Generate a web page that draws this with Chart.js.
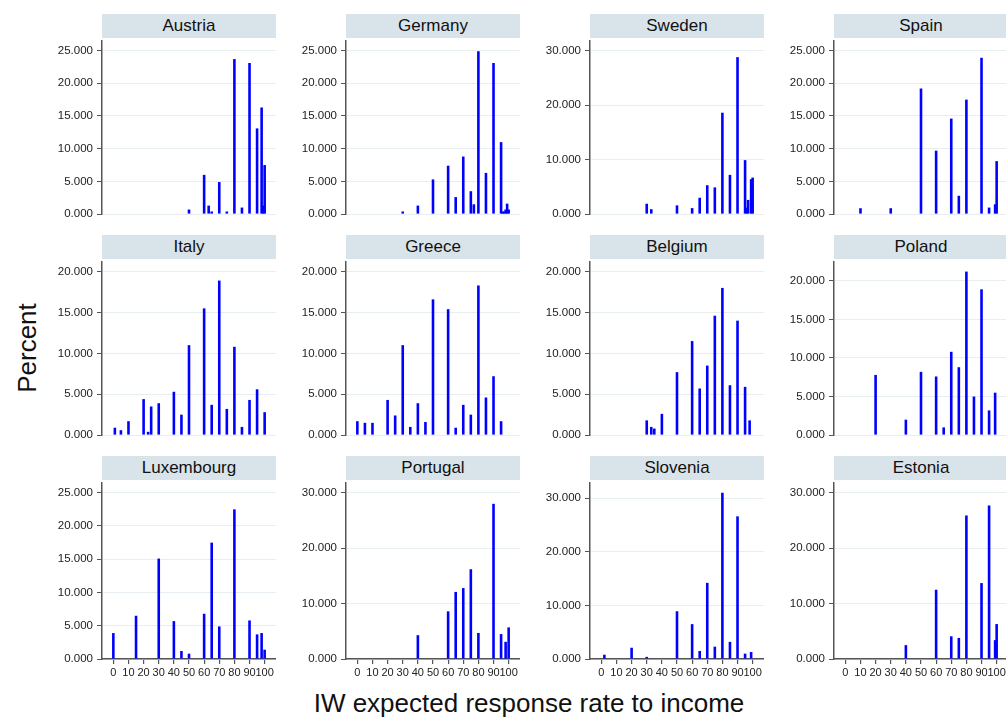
<!DOCTYPE html>
<html>
<head>
<meta charset="utf-8">
<script src="https://cdn.jsdelivr.net/npm/chart.js@4/dist/chart.umd.min.js"></script>
<style>
  html, body { margin: 0; padding: 0; background: #ffffff; }
  body { position: relative; width: 1006px; height: 717px; overflow: hidden;
         font-family: "Liberation Sans", Arial, Helvetica, sans-serif; }
  .strip { position: absolute; height: 24px; background: #d9e4ea; color: #111;
           font-size: 17px; line-height: 18px; text-align: center; white-space: nowrap; }
  canvas { position: absolute; }
  .ytitle { position: absolute; left: 27px; top: 348px; font-size: 26px; line-height: 26px;
            color: #111; transform: translate(-50%, -50%) rotate(-90deg); white-space: nowrap; }
  .xtitle { position: absolute; left: 529px; top: 703px; font-size: 26px; line-height: 26px;
            color: #111; transform: translate(-50%, -50%); white-space: nowrap; }
</style>
</head>
<body>
<div class="ytitle">Percent</div>
<div class="xtitle">IW expected response rate to income</div>
<script>
// Panels, in reading order (4 per row)
const countries = ['Austria', 'Germany', 'Sweden', 'Spain',
                   'Italy', 'Greece', 'Belgium', 'Poland',
                   'Luxembourg', 'Portugal', 'Slovenia', 'Estonia'];

// x-axis tick labels (shown on the bottom row only)
const xTicks = [0, 10, 20, 30, 40, 50, 60, 70, 80, 90, 100];

// y-axis tick labels per panel: top label and spacing
const yTickMax  = [25, 25, 30, 25, 20, 20, 20, 20, 25, 30, 30, 30];
const yTickStep = [ 5,  5, 10,  5,  5,  5,  5,  5,  5, 10, 10, 10];

// expected response rate (x) and percent of respondents (y) per country
const austriaRate = [50, 60, 63, 65, 70, 75, 80, 85, 90, 95, 98, 99, 100];
const austriaPct  = [0.7, 6.0, 1.3, 0.4, 4.9, 0.4, 23.7, 1.0, 23.1, 13.1, 16.3, 1.3, 7.5];

const germanyRate = [30, 40, 50, 60, 65, 70, 75, 77, 80, 85, 90, 95, 96, 97, 98, 99, 100];
const germanyPct  = [0.4, 1.3, 5.3, 7.4, 2.6, 8.8, 3.5, 1.5, 24.9, 6.3, 23.1, 11.0, 0.4, 0.4, 0.7, 1.6, 0.7];

const swedenRate = [30, 33, 50, 60, 65, 70, 75, 80, 85, 90, 95, 96, 97, 99, 100];
const swedenPct  = [1.9, 0.9, 1.6, 1.1, 3.0, 5.3, 4.9, 18.6, 7.2, 28.8, 9.9, 1.2, 2.6, 6.4, 6.7];

const spainRate = [10, 30, 50, 60, 70, 75, 80, 90, 95, 99, 100];
const spainPct  = [0.9, 0.9, 19.2, 9.7, 14.6, 2.8, 17.5, 23.9, 1.0, 1.5, 8.1];

const italyRate = [1, 5, 10, 20, 23, 25, 30, 40, 45, 50, 60, 65, 70, 75, 80, 85, 90, 95, 100];
const italyPct  = [0.9, 0.6, 1.7, 4.4, 0.4, 3.5, 3.9, 5.3, 2.5, 11.0, 15.5, 3.7, 18.9, 3.2, 10.8, 1.0, 4.3, 5.6, 2.8];

const greeceRate = [0, 5, 10, 20, 25, 30, 35, 40, 45, 50, 60, 65, 70, 75, 80, 85, 90, 95];
const greecePct  = [1.7, 1.5, 1.5, 4.3, 2.4, 11.0, 1.0, 3.9, 1.6, 16.6, 15.4, 0.9, 3.7, 2.5, 18.3, 4.6, 7.2, 1.7];

const belgiumRate = [30, 33, 35, 40, 50, 60, 65, 70, 75, 80, 85, 90, 95, 98];
const belgiumPct  = [1.8, 1.0, 0.8, 2.6, 7.7, 11.5, 5.7, 8.5, 14.6, 18.0, 6.1, 14.0, 5.9, 1.8];

const polandRate = [20, 40, 50, 60, 65, 70, 75, 80, 85, 90, 95, 99];
const polandPct  = [7.8, 2.0, 8.2, 7.6, 1.0, 10.8, 8.8, 21.2, 5.0, 18.9, 3.2, 5.5];

const luxembourgRate = [0, 15, 30, 40, 45, 50, 60, 65, 70, 80, 90, 95, 98, 100];
const luxembourgPct  = [3.9, 6.5, 15.1, 5.7, 1.2, 0.8, 6.8, 17.5, 4.9, 22.5, 5.8, 3.7, 3.9, 1.4];

const portugalRate = [40, 60, 65, 70, 75, 80, 90, 95, 98, 100];
const portugalPct  = [4.3, 8.6, 12.1, 12.8, 16.2, 4.7, 28.0, 4.5, 3.1, 5.7];

const sloveniaRate = [2, 20, 30, 50, 60, 65, 70, 75, 80, 85, 90, 95, 99];
const sloveniaPct  = [0.8, 2.1, 0.4, 8.9, 6.5, 1.5, 14.2, 2.3, 31.0, 3.2, 26.6, 1.0, 1.3];

const estoniaRate = [40, 60, 70, 75, 80, 90, 95, 99, 100];
const estoniaPct  = [2.5, 12.5, 4.1, 3.8, 25.9, 13.7, 27.7, 3.4, 6.3];

const rates = [austriaRate, germanyRate, swedenRate, spainRate, italyRate, greeceRate,
               belgiumRate, polandRate, luxembourgRate, portugalRate, sloveniaRate, estoniaRate];
const pcts  = [austriaPct, germanyPct, swedenPct, spainPct, italyPct, greecePct,
               belgiumPct, polandPct, luxembourgPct, portugalPct, sloveniaPct, estoniaPct];

// grid of plot regions
const COL_X = [102, 346, 590, 834];
const ROW_Y = [38, 259, 480];
const PLOT_W = 174, PLOT_H = 179, STRIP_H = 24, YAXIS_W = 60;
const TOP_GAP = 10;           // white space kept above the highest tick / bar
const AXIS_COLOR = '#555555', GRID_COLOR = '#e7eef1', TEXT_COLOR = '#222222';

Chart.defaults.font.family = '"Liberation Sans", Arial, Helvetica, sans-serif';
Chart.defaults.font.size = 11;
Chart.defaults.color = TEXT_COLOR;

countries.forEach((name, i) => {
  const row = Math.floor(i / 4), col = i % 4;
  const left = COL_X[col], top = ROW_Y[row];
  const bottomRow = row === 2;

  const strip = document.createElement('div');
  strip.className = 'strip';
  strip.style.left = left + 'px';
  strip.style.top = (top - STRIP_H) + 'px';
  strip.style.width = PLOT_W + 'px';
  strip.style.paddingTop = '3px';
  strip.style.height = (STRIP_H - 3) + 'px';
  strip.textContent = name;
  document.body.appendChild(strip);

  const padTop = 8;
  const xAxisH = bottomRow ? 30 : 0;
  const padBottom = bottomRow ? 0 : 8;
  const W = YAXIS_W + PLOT_W, H = padTop + PLOT_H + xAxisH + padBottom;

  const cv = document.createElement('canvas');
  cv.width = W; cv.height = H;
  cv.style.width = W + 'px'; cv.style.height = H + 'px';
  cv.style.left = (left - YAXIS_W) + 'px';
  cv.style.top = (top - padTop) + 'px';
  document.body.appendChild(cv);

  const step = yTickStep[i], tMax = yTickMax[i];
  const yTicks = [];
  for (let v = 0; v <= tMax + 1e-9; v += step) yTicks.push(v);
  const highest = Math.max(tMax, ...pcts[i]);
  const yMax = highest * PLOT_H / (PLOT_H - TOP_GAP);

  new Chart(cv, {
    type: 'bar',
    data: {
      datasets: [{
        data: rates[i].map((x, k) => ({ x: x, y: pcts[i][k] })),
        backgroundColor: '#0000ff',
        borderWidth: 0,
        inflateAmount: 0,
        barThickness: 2.6,
        grouped: false
      }]
    },
    options: {
      responsive: false,
      devicePixelRatio: 1,
      animation: false,
      events: [],
      layout: { padding: { top: padTop, bottom: padBottom, left: 0, right: 0 } },
      plugins: { legend: { display: false }, tooltip: { enabled: false }, title: { display: false } },
      scales: {
        x: {
          type: 'linear',
          offset: false,
          min: -7.5, max: 107.5,
          display: bottomRow,
          afterBuildTicks: s => { s.ticks = xTicks.map(v => ({ value: v })); },
          afterFit: s => { s.height = xAxisH; },
          grid: { offset: false, drawOnChartArea: false, drawTicks: true, tickLength: 5, tickColor: AXIS_COLOR, lineWidth: 1.2 },
          border: { display: true, color: AXIS_COLOR, width: 1.5 },
          ticks: { autoSkip: false, maxRotation: 0, minRotation: 0, padding: 2,
                   color: TEXT_COLOR, font: { size: 11 }, callback: v => String(v) }
        },
        y: {
          type: 'linear',
          min: 0, max: yMax,
          afterBuildTicks: s => { s.ticks = yTicks.map(v => ({ value: v })); },
          afterFit: s => { s.width = YAXIS_W; },
          grid: { color: GRID_COLOR, lineWidth: 1, drawTicks: true, tickLength: 5, tickColor: AXIS_COLOR },
          border: { display: true, color: AXIS_COLOR, width: 1.5 },
          ticks: { padding: 4, color: TEXT_COLOR, font: { size: 11.5 },
                   callback: v => Number(v).toFixed(3) }
        }
      }
    }
  });
});
</script>
</body>
</html>
